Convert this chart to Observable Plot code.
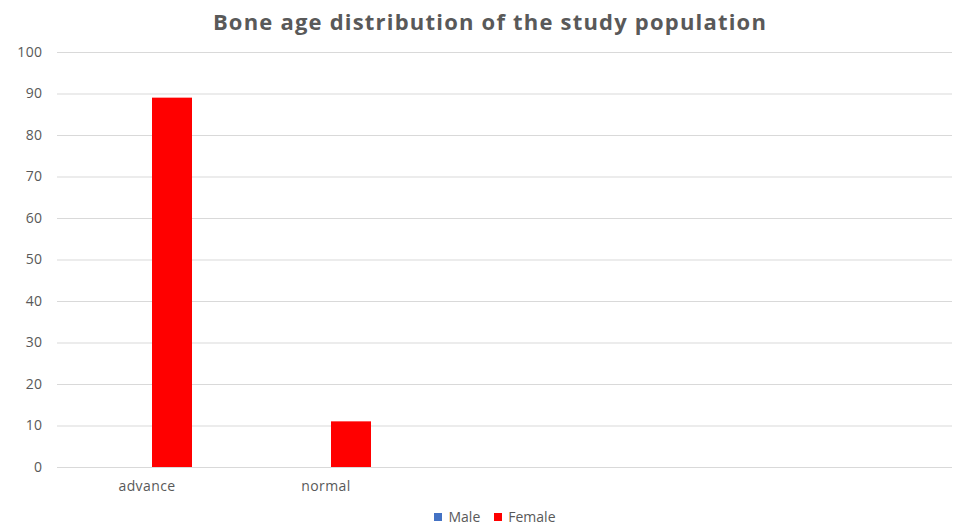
<!DOCTYPE html>
<html>
<head>
<meta charset="utf-8">
<script src="https://cdn.jsdelivr.net/npm/d3@7"></script>
<script src="https://cdn.jsdelivr.net/npm/@observablehq/plot@0.6"></script>
<style>
  body { margin: 0; background: #fff; font-family: "Open Sans", sans-serif; }
  #title { height: 40px; line-height: 42px; width: 980px; text-align: center; font-weight: 700; font-size: 22px; letter-spacing: 1.2px; color: #595959; white-space: nowrap; }
  #legend { height: 25px; width: 990px; display: flex; justify-content: center; align-items: center; gap: 14px; font-size: 14px; color: #595959; padding-top: 4px; }
  .sw { display: inline-block; width: 8px; height: 8px; margin-right: 6px; }
  #legend span.item { display: inline-flex; align-items: center; }
</style>
</head>
<body>
<div id="title">Bone age distribution of the study population</div>
<div id="chart"></div>
<div id="legend"></div>
<script>
const categories = ["advance", "normal", "c3", "c4", "c5"];
const categoryLabels = ["advance", "normal", "", "", ""];
const series = ["Male", "Female"];
const colors = ["#4472C4", "#FF0000"];
const maleValues = [0, 0];
const femaleValues = [89, 11];
const yTicks = [0, 10, 20, 30, 40, 50, 60, 70, 80, 90, 100];

const data = [];
["advance", "normal"].forEach((c, i) => {
  data.push({category: c, series: "Male", value: maleValues[i]});
  data.push({category: c, series: "Female", value: femaleValues[i]});
});
// gridlines across every category band (including the blank ones)
const grid = categories.flatMap(c => yTicks.map(t => ({category: c, tick: t})));

const chart = Plot.plot({
  width: 953,
  height: 460,
  marginTop: 12,
  marginBottom: 33,
  marginLeft: 55,
  marginRight: 0,
  style: {fontFamily: "'Open Sans', sans-serif", fontSize: "14px", color: "#595959", background: "#fff", letterSpacing: "0.4px"},
  fx: {domain: categories, padding: 0, label: null, tickSize: 0, tickPadding: 14,
       tickFormat: d => categoryLabels[categories.indexOf(d)]},
  x: {domain: series, axis: null, paddingInner: 0, paddingOuter: 1.2375, align: 0.56},
  y: {domain: [0, 100], ticks: yTicks, label: null, tickSize: 0, tickPadding: 15},
  color: {domain: series, range: colors},
  marks: [
    Plot.ruleY(grid, {fx: "category", y: "tick", stroke: "#d9d9d9", strokeWidth: 1}),
    Plot.barY(data, {fx: "category", x: "series", y: "value", fill: "series"}),
    Plot.axisY({ticks: yTicks, tickSize: 0, tickPadding: 15, label: null, fill: "#595959"})
  ]
});
document.getElementById("chart").appendChild(chart);

const legend = document.getElementById("legend");
series.forEach((s, i) => {
  const item = document.createElement("span");
  item.className = "item";
  item.innerHTML = `<span class="sw" style="background:${colors[i]}"></span>${s}`;
  legend.appendChild(item);
});
</script>
</body>
</html>
